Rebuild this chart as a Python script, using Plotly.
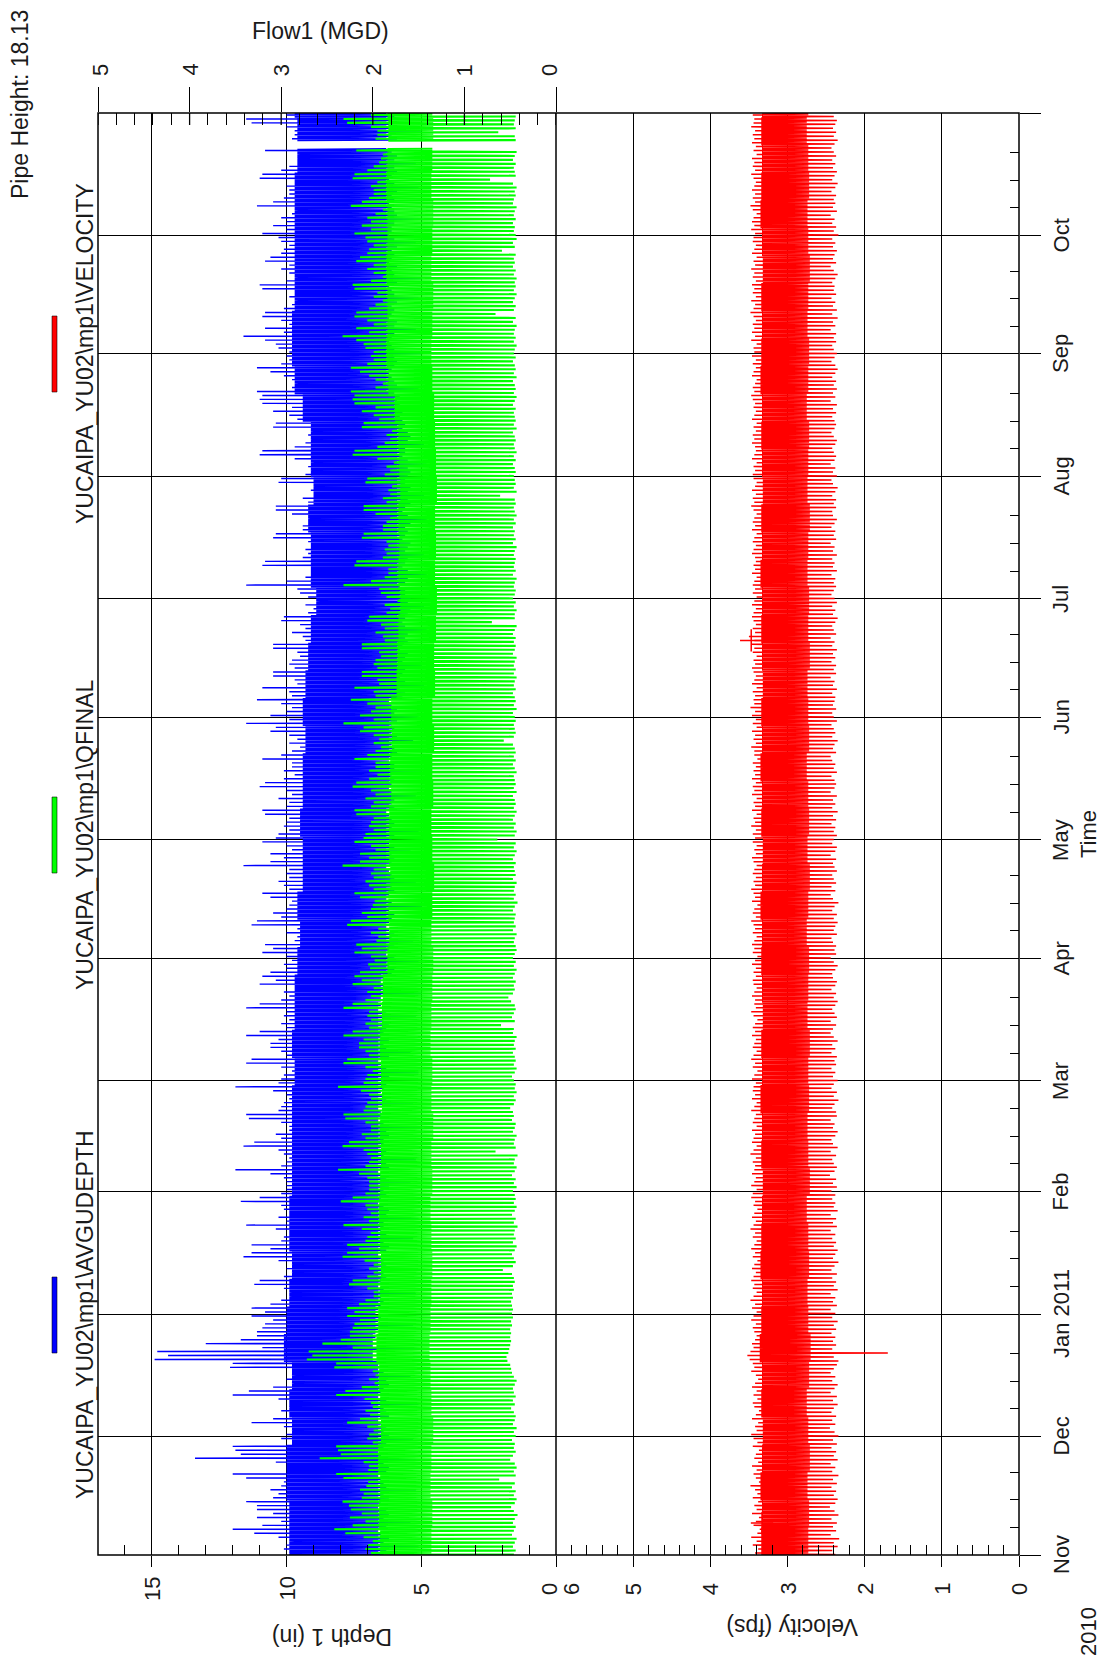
import plotly.graph_objects as go
from datetime import datetime, timedelta

# ---------------- data ----------------
START = datetime(2010, 11, 1)
END = datetime(2011, 11, 1)

# daily maximum depth (in), one row per week (Mon..Sun), first row starts Mon 2010-11-01
DEPTH_MAX = [
    9.8, 10.1, 10.0, 9.7, 10.3, 11.2, 12.0,
    10.9, 10.2, 11.1, 10.5, 11.1, 11.1, 11.5,
    10.5, 10.3, 10.6, 10.2, 10.1, 11.5, 12.0,
    10.0, 10.0, 10.4, 13.4, 11.7, 11.9, 12.0,
    9.8, 10.2, 10.0, 9.7, 10.1, 11.3, 10.5,
    9.9, 10.2, 9.8, 9.9, 10.3, 12.0, 11.4,
    10.5, 9.6, 10.0, 9.5, 9.8, 12.1, 12.0,
    14.9, 14.4, 14.8, 10.9, 13.0, 11.7, 11.1,
    11.1, 10.9, 10.8, 10.5, 11.3, 10.8, 11.3,
    10.6, 10.2, 9.7, 9.7, 10.1, 11.2, 11.0,
    10.1, 9.7, 10.0, 9.7, 10.3, 11.6, 11.3,
    10.6, 11.3, 10.2, 10.1, 9.9, 10.4, 11.5,
    10.0, 10.3, 9.9, 10.1, 10.2, 11.7, 11.0,
    10.2, 10.0, 10.0, 10.0, 10.1, 10.6, 11.9,
    10.2, 10.0, 9.9, 10.1, 10.3, 11.6, 11.2,
    10.2, 10.4, 9.9, 9.9, 10.2, 11.4, 11.5,
    10.3, 10.2, 10.1, 9.9, 10.0, 10.5, 11.9,
    10.3, 10.2, 10.1, 9.8, 10.2, 11.5, 11.3,
    10.0, 10.2, 10.6, 10.6, 10.3, 11.5, 11.0,
    10.0, 10.2, 9.9, 10.1, 10.0, 11.5, 11.0,
    10.2, 9.9, 10.1, 9.7, 11.0, 10.4, 10.9,
    10.6, 10.0, 10.1, 9.8, 10.0, 10.9, 10.5,
    10.8, 9.7, 9.6, 10.0, 9.6, 11.3, 11.1,
    10.2, 10.5, 10.0, 9.9, 9.8, 10.6, 10.9,
    9.9, 10.1, 10.3, 9.9, 10.0, 9.9, 11.6,
    10.6, 10.1, 10.6, 9.8, 10.0, 10.9, 10.4,
    10.3, 9.9, 10.1, 10.0, 9.9, 10.8, 10.9,
    10.0, 9.9, 10.3, 9.8, 10.0, 11.0, 10.8,
    10.1, 9.7, 10.1, 9.8, 9.8, 10.9, 10.2,
    9.8, 9.5, 9.9, 9.6, 9.9, 10.6, 10.4,
    11.5, 9.9, 10.6, 10.0, 9.8, 10.2, 11.1,
    9.8, 9.9, 10.9, 9.6, 9.7, 10.5, 10.5,
    9.7, 9.9, 9.8, 9.5, 9.6, 10.5, 10.5,
    9.3, 9.4, 9.8, 9.3, 9.5, 10.2, 10.1,
    9.2, 9.0, 9.3, 8.6, 9.2, 9.5, 9.6,
    11.5, 10.0, 9.3, 9.1, 9.1, 10.9, 10.8,
    9.4, 9.2, 9.3, 9.1, 9.2, 10.5, 10.4,
    9.4, 9.4, 9.2, 9.0, 9.8, 10.4, 10.4,
    9.2, 9.4, 9.0, 9.1, 8.9, 10.3, 10.2,
    9.3, 9.0, 9.2, 8.8, 9.7, 11.0, 10.9,
    9.7, 9.3, 9.0, 9.2, 8.9, 10.5, 10.4,
    9.6, 9.9, 10.5, 9.8, 10.9, 11.0, 10.9,
    11.1, 9.8, 9.4, 9.8, 10.1, 10.6, 11.1,
    10.2, 9.9, 10.0, 9.9, 10.3, 10.4, 10.8,
    11.6, 10.1, 10.8, 9.9, 10.2, 10.9, 10.8,
    10.1, 9.8, 9.4, 9.9, 9.7, 10.9, 11.0,
    10.0, 9.4, 9.9, 10.2, 9.9, 10.8, 10.6,
    10.2, 10.1, 9.9, 10.2, 10.3, 10.9, 10.0,
    10.5, 10.0, 10.2, 9.8, 9.4, 11.1, 10.5,
    10.1, 9.9, 9.9, 10.0, 9.7, 11.0, 10.9,
    10.2, 9.9, 9.6, 9.5, 9.4, 10.8, None,
    None, 9.8, 9.7, 9.7, 10.0, 11.3, 11.5,
    10.0,
]

# daily minimum depth (in)
DEPTH_MIN = [
    6.4, 6.3, 5.1, 6.4, 6.2, 6.5, 6.6,
    6.3, 5.4, 6.4, 6.2, 6.3, 6.6, 6.5,
    6.2, 6.4, 5.2, 6.3, 6.4, 6.5, 6.7,
    6.3, 6.2, 6.4, 5.0, 6.5, 6.6, 6.4,
    6.3, 5.3, 6.2, 6.4, 6.3, 6.5, 6.6,
    6.2, 6.3, 6.4, 5.1, 6.3, 6.6, 6.5,
    6.4, 6.2, 6.3, 5.4, 6.4, 6.7, 6.9,
    7.2, 7.4, 7.3, 5.0, 6.9, 6.8, 6.7,
    6.7, 6.6, 5.3, 6.6, 6.5, 6.7, 6.6,
    6.5, 6.4, 6.5, 5.2, 6.4, 6.6, 6.5,
    6.3, 6.4, 5.0, 6.3, 6.4, 6.5, 6.6,
    6.3, 6.2, 6.4, 5.3, 6.3, 6.5, 6.4,
    6.4, 5.1, 6.3, 6.2, 6.4, 6.6, 6.5,
    6.3, 6.4, 6.2, 5.4, 6.3, 6.5, 6.6,
    6.2, 6.3, 5.2, 6.4, 6.3, 6.5, 6.4,
    6.4, 6.2, 6.3, 5.0, 6.4, 6.6, 6.5,
    6.5, 6.6, 5.3, 6.3, 6.4, 6.5, 6.4,
    6.3, 6.4, 6.2, 5.1, 6.3, 6.5, 6.6,
    6.2, 5.4, 6.3, 6.4, 6.2, 6.5, 6.4,
    6.3, 6.2, 6.4, 5.2, 6.3, 6.6, 6.5,
    6.5, 6.6, 5.0, 6.3, 6.4, 6.5, 6.4,
    6.1, 6.0, 6.2, 5.1, 6.0, 6.3, 6.2,
    6.0, 5.3, 6.1, 6.0, 6.2, 6.3, 6.2,
    6.1, 6.0, 6.2, 5.0, 6.1, 6.3, 6.2,
    6.0, 6.1, 5.2, 6.0, 6.1, 6.2, 6.3,
    6.1, 6.0, 6.1, 5.4, 6.0, 6.2, 6.1,
    6.0, 5.1, 6.1, 6.0, 6.1, 6.2, 6.3,
    6.0, 6.1, 6.0, 5.2, 6.1, 6.2, 6.1,
    6.0, 6.1, 5.0, 6.0, 6.0, 6.2, 6.1,
    5.9, 6.0, 6.1, 5.3, 5.9, 6.1, 6.0,
    6.1, 5.9, 5.1, 6.0, 5.9, 6.1, 6.2,
    5.7, 5.6, 5.8, 4.9, 5.6, 5.8, 5.7,
    5.6, 5.0, 5.7, 5.6, 5.5, 5.8, 5.7,
    5.5, 5.6, 5.5, 4.8, 5.6, 5.7, 5.6,
    5.5, 5.4, 4.9, 5.5, 5.4, 5.6, 5.6,
    5.8, 5.6, 5.5, 4.8, 5.5, 5.7, 5.6,
    5.5, 4.9, 5.6, 5.5, 5.4, 5.7, 5.6,
    5.5, 5.6, 5.4, 4.8, 5.5, 5.7, 5.6,
    5.4, 5.5, 4.9, 5.5, 5.4, 5.6, 5.6,
    5.5, 5.4, 5.5, 4.8, 5.5, 5.7, 5.6,
    5.6, 4.9, 5.5, 5.4, 5.5, 5.7, 5.6,
    5.7, 5.8, 5.7, 5.0, 5.8, 5.9, 5.8,
    6.0, 5.1, 5.9, 6.0, 6.1, 6.2, 6.1,
    6.0, 5.9, 6.0, 5.0, 6.0, 6.1, 6.2,
    6.1, 6.0, 5.2, 6.0, 5.9, 6.2, 6.1,
    6.0, 6.1, 5.9, 5.1, 6.0, 6.1, 6.2,
    5.9, 5.0, 6.0, 6.1, 5.9, 6.2, 6.1,
    6.0, 6.1, 5.9, 5.2, 6.0, 6.2, 6.1,
    6.1, 6.0, 5.0, 5.9, 6.0, 6.1, 6.2,
    6.0, 6.1, 5.9, 5.1, 6.0, 6.2, 6.1,
    5.9, 6.0, 5.2, 6.0, 5.9, 6.1, None,
    None, 5.9, 6.1, 5.0, 6.0, 6.2, 6.1,
    6.0,
]

# weekly edges of the dense depth band (in)
DEPTH_HI = [9.9, 9.9, 10.0, 10.0, 9.8, 9.9, 9.8, 10.1, 10.0, 9.9, 9.8, 9.9, 9.9, 9.8,
            9.8, 9.8, 9.8, 9.7, 9.8, 9.7, 9.7, 9.6, 9.5, 9.6, 9.4, 9.4, 9.5, 9.4,
            9.4, 9.3, 9.4, 9.3, 9.2, 9.1, 8.9, 9.1, 9.1, 9.2, 9.0, 9.1, 9.1, 9.4,
            9.7, 9.8, 9.8, 9.7, 9.7, 9.7, 9.7, 9.7, 9.6, 9.6, 9.7]
DEPTH_LO = [6.6, 6.6, 6.6, 6.6, 6.6, 6.6, 6.6, 6.8, 6.7, 6.6, 6.6, 6.6, 6.6, 6.6,
            6.6, 6.6, 6.6, 6.6, 6.6, 6.6, 6.5, 6.3, 6.3, 6.3, 6.3, 6.3, 6.3, 6.2,
            6.2, 6.2, 6.2, 5.9, 5.9, 5.9, 5.8, 5.9, 5.9, 5.9, 5.9, 5.9, 5.9, 6.0,
            6.3, 6.3, 6.3, 6.3, 6.3, 6.3, 6.3, 6.3, 6.3, 6.3, 6.3]

# daily maximum flow (MGD)
FLOW_MAX = [
    2.02, 2.08, 2.05, 2.00, 2.10, 2.30, 2.42,
    2.22, 2.08, 2.25, 2.12, 2.24, 2.26, 2.33,
    2.12, 2.10, 2.14, 2.07, 2.05, 2.32, 2.40,
    2.05, 2.04, 2.10, 2.58, 2.35, 2.38, 2.40,
    2.00, 2.06, 2.04, 1.99, 2.06, 2.28, 2.14,
    2.03, 2.08, 2.00, 2.02, 2.09, 2.40, 2.30,
    2.12, 1.98, 2.04, 1.97, 2.00, 2.42, 2.40,
    2.72, 2.66, 2.70, 2.22, 2.55, 2.35, 2.25,
    2.25, 2.22, 2.20, 2.14, 2.28, 2.20, 2.28,
    2.15, 2.08, 1.99, 1.99, 2.06, 2.26, 2.22,
    2.06, 1.99, 2.04, 1.99, 2.09, 2.33, 2.28,
    2.15, 2.28, 2.08, 2.06, 2.02, 2.12, 2.32,
    2.04, 2.10, 2.02, 2.06, 2.08, 2.35, 2.22,
    2.08, 2.04, 2.04, 2.04, 2.06, 2.15, 2.38,
    2.08, 2.04, 2.02, 2.06, 2.10, 2.33, 2.26,
    2.08, 2.12, 2.02, 2.02, 2.08, 2.30, 2.32,
    2.10, 2.08, 2.06, 2.02, 2.04, 2.13, 2.38,
    2.10, 2.08, 2.06, 2.00, 2.08, 2.32, 2.28,
    2.04, 2.08, 2.15, 2.15, 2.10, 2.32, 2.22,
    2.04, 2.08, 2.02, 2.06, 2.04, 2.32, 2.22,
    2.08, 2.02, 2.06, 1.99, 2.22, 2.12, 2.20,
    2.14, 2.03, 2.05, 1.98, 2.02, 2.20, 2.12,
    2.18, 1.96, 1.94, 2.02, 1.94, 2.28, 2.24,
    2.06, 2.12, 2.02, 2.00, 1.98, 2.14, 2.20,
    1.99, 2.04, 2.08, 1.99, 2.02, 1.99, 2.33,
    2.14, 2.04, 2.14, 1.97, 2.02, 2.20, 2.10,
    2.08, 1.99, 2.04, 2.02, 1.99, 2.18, 2.20,
    2.02, 1.99, 2.08, 1.97, 2.02, 2.22, 2.18,
    2.04, 1.95, 2.04, 1.97, 1.97, 2.20, 2.06,
    1.97, 1.91, 1.99, 1.93, 1.99, 2.14, 2.10,
    2.32, 1.99, 2.14, 2.02, 1.97, 2.06, 2.24,
    1.97, 1.99, 2.20, 1.93, 1.95, 2.12, 2.12,
    1.95, 1.99, 1.97, 1.91, 1.93, 2.12, 2.12,
    1.87, 1.89, 1.97, 1.87, 1.91, 2.06, 2.04,
    1.85, 1.81, 1.87, 1.73, 1.85, 1.91, 1.93,
    2.32, 2.02, 1.87, 1.83, 1.83, 2.20, 2.18,
    1.89, 1.85, 1.87, 1.83, 1.85, 2.12, 2.10,
    1.89, 1.89, 1.85, 1.81, 1.97, 2.10, 2.10,
    1.85, 1.89, 1.81, 1.83, 1.79, 2.08, 2.06,
    1.87, 1.81, 1.85, 1.77, 1.95, 2.22, 2.20,
    1.95, 1.87, 1.81, 1.85, 1.79, 2.12, 2.10,
    1.93, 1.99, 2.12, 1.97, 2.20, 2.22, 2.20,
    2.24, 1.97, 1.89, 1.97, 2.04, 2.14, 2.24,
    2.06, 1.99, 2.02, 1.99, 2.08, 2.10, 2.18,
    2.33, 2.04, 2.18, 1.99, 2.06, 2.20, 2.18,
    2.04, 1.97, 1.89, 1.99, 1.95, 2.20, 2.22,
    2.02, 1.89, 1.99, 2.06, 1.99, 2.18, 2.14,
    2.06, 2.04, 1.99, 2.06, 2.08, 2.20, 2.02,
    2.12, 2.02, 2.06, 1.97, 1.89, 2.24, 2.12,
    2.04, 1.99, 1.99, 2.02, 1.95, 2.22, 2.20,
    2.06, 1.99, 1.93, 1.91, 1.89, 2.18, None,
    None, 1.97, 1.95, 1.95, 2.02, 2.28, 2.32,
    2.02,
]

# daily minimum flow (MGD)
FLOW_MIN = [
    0.46, 0.44, 0.47, 0.45, 0.43, 0.48, 0.46,
    0.44, 0.47, 0.45, 0.42, 0.46, 0.49, 0.45,
    0.43, 0.46, 0.44, 0.48, 0.45, 0.62, 0.44,
    0.46, 0.43, 0.45, 0.50, 0.47, 0.44, 0.46,
    0.45, 0.48, 0.44, 0.46, 0.43, 0.47, 0.45,
    0.44, 0.46, 0.49, 0.45, 0.47, 0.44, 0.46,
    0.47, 0.45, 0.43, 0.46, 0.48, 0.49, 0.50,
    0.53, 0.54, 0.52, 0.51, 0.50, 0.49, 0.50,
    0.49, 0.50, 0.48, 0.49, 0.47, 0.48, 0.47,
    0.48, 0.49, 0.47, 0.48, 0.46, 0.47, 0.45,
    0.46, 0.48, 0.58, 0.47, 0.44, 0.46, 0.48,
    0.45, 0.43, 0.47, 0.44, 0.46, 0.45, 0.42,
    0.46, 0.44, 0.48, 0.45, 0.43, 0.46, 0.44,
    0.45, 0.47, 0.43, 0.46, 0.44, 0.48, 0.45,
    0.43, 0.46, 0.45, 0.42, 0.66, 0.44, 0.46,
    0.45, 0.43, 0.47, 0.45, 0.44, 0.48, 0.46,
    0.47, 0.50, 0.46, 0.44, 0.46, 0.43, 0.45,
    0.44, 0.46, 0.48, 0.45, 0.43, 0.46, 0.44,
    0.45, 0.47, 0.44, 0.46, 0.45, 0.43, 0.47,
    0.46, 0.60, 0.45, 0.48, 0.46, 0.44, 0.45,
    0.49, 0.52, 0.47, 0.45, 0.46, 0.44, 0.47,
    0.45, 0.43, 0.46, 0.44, 0.47, 0.45, 0.43,
    0.44, 0.46, 0.45, 0.43, 0.47, 0.44, 0.46,
    0.45, 0.44, 0.47, 0.45, 0.42, 0.46, 0.44,
    0.46, 0.45, 0.43, 0.47, 0.44, 0.45, 0.46,
    0.44, 0.47, 0.45, 0.43, 0.46, 0.44, 0.64,
    0.45, 0.43, 0.46, 0.44, 0.47, 0.45, 0.43,
    0.46, 0.44, 0.45, 0.47, 0.43, 0.46, 0.44,
    0.45, 0.46, 0.43, 0.45, 0.47, 0.44, 0.46,
    0.44, 0.45, 0.47, 0.57, 0.46, 0.44, 0.45,
    0.46, 0.44, 0.45, 0.47, 0.43, 0.46, 0.44,
    0.45, 0.47, 0.44, 0.46, 0.45, 0.43, 0.46,
    0.44, 0.46, 0.45, 0.43, 0.47, 0.45, 0.44,
    0.46, 0.44, 0.47, 0.45, 0.43, 0.70, 0.45,
    0.45, 0.43, 0.46, 0.44, 0.47, 0.45, 0.44,
    0.46, 0.45, 0.43, 0.47, 0.44, 0.46, 0.45,
    0.44, 0.46, 0.45, 0.43, 0.47, 0.44, 0.46,
    0.45, 0.47, 0.44, 0.46, 0.43, 0.45, 0.46,
    0.44, 0.45, 0.61, 0.43, 0.46, 0.44, 0.45,
    0.46, 0.44, 0.45, 0.47, 0.44, 0.46, 0.43,
    0.45, 0.46, 0.44, 0.45, 0.47, 0.43, 0.46,
    0.44, 0.45, 0.46, 0.44, 0.47, 0.45, 0.43,
    0.46, 0.44, 0.45, 0.47, 0.43, 0.46, 0.44,
    0.45, 0.47, 0.44, 0.46, 0.45, 0.43, 0.46,
    0.44, 0.46, 0.45, 0.43, 0.47, 0.44, 0.66,
    0.46, 0.44, 0.47, 0.45, 0.43, 0.46, 0.44,
    0.45, 0.43, 0.46, 0.44, 0.47, 0.45, 0.46,
    0.44, 0.59, 0.45, 0.47, 0.43, 0.44, 0.46,
    0.45, 0.47, 0.44, 0.46, 0.45, 0.43, 0.47,
    0.46, 0.44, 0.45, 0.43, 0.47, 0.72, 0.44,
    0.45, 0.46, 0.44, 0.47, 0.45, 0.43, None,
    None, 0.44, 0.45, 0.63, 0.44, 0.46, 0.45,
    0.44,
]

FLOW_HI = [1.92, 1.93, 1.92, 1.94, 1.91, 1.92, 1.93, 1.96, 1.94, 1.92, 1.91, 1.92, 1.93, 1.92,
           1.91, 1.92, 1.90, 1.91, 1.92, 1.90, 1.89, 1.84, 1.82, 1.83, 1.81, 1.82, 1.82, 1.80,
           1.81, 1.79, 1.80, 1.74, 1.73, 1.72, 1.70, 1.72, 1.71, 1.72, 1.70, 1.71, 1.72, 1.76,
           1.83, 1.85, 1.84, 1.84, 1.85, 1.84, 1.84, 1.85, 1.84, 1.83, 1.84]
FLOW_LO = [1.36, 1.35, 1.37, 1.36, 1.34, 1.36, 1.37, 1.38, 1.37, 1.36, 1.35, 1.36, 1.37, 1.35,
           1.36, 1.34, 1.36, 1.35, 1.37, 1.36, 1.35, 1.34, 1.36, 1.35, 1.33, 1.35, 1.36, 1.34,
           1.35, 1.33, 1.35, 1.32, 1.33, 1.31, 1.30, 1.32, 1.31, 1.32, 1.30, 1.31, 1.32, 1.33,
           1.35, 1.36, 1.35, 1.34, 1.36, 1.35, 1.34, 1.36, 1.35, 1.34, 1.35]

# daily maximum velocity (fps)
VEL_MAX = [
    3.42, 3.38, 3.45, 3.40, 3.47, 3.39, 3.36,
    3.44, 3.41, 3.37, 3.46, 3.40, 3.43, 3.38,
    3.45, 3.39, 3.42, 3.48, 3.37, 3.41, 3.44,
    3.40, 3.46, 3.38, 3.43, 3.41, 3.37, 3.45,
    3.39, 3.44, 3.47, 3.40, 3.42, 3.38, 3.46,
    3.41, 3.37, 3.43, 3.45, 3.39, 3.44, 3.40,
    3.46, 3.42, 3.38, 3.41, 3.47, 3.43, 3.45,
    3.49, 3.52, 3.48, 3.44, 3.46, 3.42, 3.40,
    3.43, 3.45, 3.41, 3.47, 3.44, 3.40, 3.46,
    3.42, 3.48, 3.44, 3.40, 3.45, 3.43, 3.47,
    3.44, 3.41, 3.46, 3.43, 3.39, 3.45, 3.42,
    3.47, 3.43, 3.40, 3.45, 3.42, 3.48, 3.44,
    3.41, 3.46, 3.43, 3.39, 3.44, 3.42, 3.47,
    3.45, 3.40, 3.47, 3.43, 3.41, 3.46, 3.43,
    3.42, 3.45, 3.41, 3.48, 3.44, 3.40, 3.46,
    3.44, 3.42, 3.46, 3.40, 3.45, 3.43, 3.41,
    3.47, 3.43, 3.40, 3.46, 3.42, 3.45, 3.44,
    3.41, 3.46, 3.43, 3.39, 3.45, 3.42, 3.47,
    3.44, 3.40, 3.45, 3.43, 3.41, 3.46, 3.42,
    3.45, 3.42, 3.39, 3.44, 3.47, 3.41, 3.43,
    3.42, 3.46, 3.43, 3.40, 3.44, 3.45, 3.41,
    3.44, 3.41, 3.46, 3.42, 3.39, 3.45, 3.43,
    3.46, 3.43, 3.40, 3.45, 3.42, 3.44, 3.47,
    3.41, 3.45, 3.43, 3.39, 3.46, 3.42, 3.44,
    3.47, 3.42, 3.44, 3.41, 3.45, 3.43, 3.40,
    3.44, 3.46, 3.41, 3.43, 3.40, 3.45, 3.42,
    3.45, 3.41, 3.47, 3.42, 3.44, 3.40, 3.46,
    3.42, 3.44, 3.40, 3.46, 3.43, 3.45, 3.41,
    3.46, 3.42, 3.44, 3.41, 3.45, 3.39, 3.43,
    3.43, 3.47, 3.41, 3.44, 3.42, 3.46, 3.40,
    3.45, 3.41, 3.46, 3.42, 3.48, 3.43, 3.44,
    3.42, 3.45, 3.40, 3.46, 3.43, 3.41, 3.44,
    3.46, 3.42, 3.44, 3.40, 3.45, 3.43, 3.47,
    3.43, 3.50, 3.42, 3.45, 3.41, 3.44, 3.46,
    3.44, 3.41, 3.46, 3.43, 3.40, 3.45, 3.42,
    3.45, 3.43, 3.40, 3.46, 3.42, 3.44, 3.41,
    3.42, 3.46, 3.44, 3.41, 3.45, 3.43, 3.40,
    3.46, 3.42, 3.45, 3.43, 3.40, 3.44, 3.47,
    3.43, 3.45, 3.41, 3.46, 3.42, 3.40, 3.44,
    3.45, 3.42, 3.44, 3.40, 3.46, 3.43, 3.41,
    3.42, 3.46, 3.43, 3.45, 3.41, 3.44, 3.40,
    3.46, 3.43, 3.41, 3.44, 3.42, 3.45, 3.47,
    3.43, 3.45, 3.42, 3.40, 3.46, 3.44, 3.41,
    3.45, 3.41, 3.46, 3.43, 3.44, 3.40, 3.47,
    3.42, 3.46, 3.43, 3.45, 3.41, 3.44, 3.48,
    3.44, 3.42, 3.47, 3.41, 3.45, 3.43, 3.46,
    3.41, 3.45, 3.43, 3.47, 3.42, 3.44, 3.40,
    3.46, 3.43, 3.41, 3.45, 3.44, 3.42, 3.47,
    3.43, 3.46, 3.44, 3.40, 3.45, 3.48, 3.42,
    3.45, 3.42, 3.46, 3.43, 3.41, 3.44, 3.47,
    3.42, 3.45, 3.43, 3.46, 3.40, 3.44, 3.41,
    3.46, 3.43, 3.45, 3.42, 3.47, 3.44, 3.43,
    3.45,
]

# daily minimum velocity (fps)
VEL_MIN = [
    2.38, 2.42, 2.35, 2.40, 2.33, 2.44, 2.37,
    2.41, 2.36, 2.43, 2.34, 2.39, 2.45, 2.38,
    2.35, 2.40, 2.37, 2.43, 2.36, 2.41, 2.34,
    2.42, 2.38, 2.44, 2.35, 2.40, 2.37, 2.43,
    2.36, 2.41, 2.34, 2.39, 2.45, 2.38, 2.42,
    2.37, 2.43, 2.40, 2.35, 2.41, 2.36, 2.44,
    2.39, 2.35, 2.42, 2.38, 2.44, 2.40, 2.36,
    2.34, 2.40, 1.70, 2.42, 2.37, 2.41, 2.38,
    2.43, 2.37, 2.40, 2.35, 2.42, 2.38, 2.44,
    2.36, 2.41, 2.38, 2.44, 2.35, 2.40, 2.37,
    2.42, 2.36, 2.43, 2.39, 2.34, 2.41, 2.38,
    2.35, 2.40, 2.37, 2.42, 2.38, 2.44, 2.36,
    2.41, 2.37, 2.44, 2.35, 2.40, 2.38, 2.42,
    2.38, 2.43, 2.36, 2.41, 2.37, 2.45, 2.39,
    2.36, 2.40, 2.42, 2.37, 2.44, 2.35, 2.41,
    2.43, 2.38, 2.35, 2.41, 2.39, 2.44, 2.36,
    2.37, 2.42, 2.39, 2.34, 2.40, 2.36, 2.43,
    2.40, 2.35, 2.41, 2.38, 2.43, 2.37, 2.39,
    2.36, 2.43, 2.38, 2.42, 2.35, 2.40, 2.44,
    2.41, 2.37, 2.44, 2.36, 2.39, 2.42, 2.38,
    2.35, 2.40, 2.37, 2.43, 2.38, 2.36, 2.41,
    2.42, 2.38, 2.35, 2.40, 2.44, 2.37, 2.39,
    2.37, 2.41, 2.43, 2.36, 2.40, 2.38, 2.35,
    2.40, 2.36, 2.42, 2.39, 2.34, 2.41, 2.44,
    2.38, 2.43, 2.37, 2.40, 2.42, 2.36, 2.39,
    2.41, 2.37, 2.44, 2.38, 2.36, 2.42, 2.40,
    2.36, 2.40, 2.38, 2.43, 2.37, 2.41, 2.35,
    2.42, 2.38, 2.41, 2.36, 2.44, 2.39, 2.37,
    2.39, 2.43, 2.36, 2.40, 2.38, 2.42, 2.44,
    2.37, 2.41, 2.39, 2.35, 2.42, 2.38, 2.40,
    2.43, 2.36, 2.40, 2.42, 2.37, 2.41, 2.39,
    2.38, 2.42, 2.36, 2.41, 2.39, 2.44, 2.37,
    2.40, 2.37, 2.43, 2.38, 2.41, 2.36, 2.42,
    2.39, 2.44, 2.37, 2.40, 2.42, 2.38, 2.35,
    2.41, 2.38, 2.42, 2.36, 2.39, 2.43, 2.40,
    2.37, 2.40, 2.38, 2.43, 2.36, 2.41, 2.39,
    2.42, 2.36, 2.41, 2.39, 2.44, 2.37, 2.40,
    2.38, 2.43, 2.39, 2.36, 2.41, 2.42, 2.37,
    2.40, 2.37, 2.42, 2.38, 2.35, 2.41, 2.43,
    2.36, 2.41, 2.38, 2.44, 2.39, 2.37, 2.40,
    2.42, 2.38, 2.36, 2.40, 2.43, 2.39, 2.37,
    2.39, 2.42, 2.37, 2.41, 2.36, 2.44, 2.38,
    2.41, 2.36, 2.40, 2.37, 2.42, 2.38, 2.35,
    2.38, 2.43, 2.39, 2.36, 2.40, 2.42, 2.37,
    2.40, 2.37, 2.44, 2.38, 2.41, 2.35, 2.42,
    2.36, 2.41, 2.38, 2.43, 2.37, 2.40, 2.39,
    2.42, 2.38, 2.35, 2.40, 2.44, 2.37, 2.41,
    2.39, 2.36, 2.41, 2.38, 2.42, 2.34, 2.40,
    2.37, 2.42, 2.39, 2.44, 2.36, 2.41, 2.38,
    2.40, 2.37, 2.43, 2.38, 2.35, 2.42, 2.39,
    2.36, 2.41, 2.38, 2.42, 2.37, 2.40, 2.43,
    2.39, 2.35, 2.40, 2.37, 2.41, 2.38, 2.36,
    2.40,
]

VEL_HI = [3.34, 3.33, 3.35, 3.33, 3.32, 3.34, 3.33, 3.36, 3.34, 3.33, 3.35, 3.34, 3.33, 3.32,
          3.34, 3.33, 3.35, 3.33, 3.34, 3.32, 3.33, 3.34, 3.33, 3.35, 3.33, 3.32, 3.34, 3.33,
          3.35, 3.33, 3.34, 3.32, 3.33, 3.34, 3.33, 3.35, 3.33, 3.34, 3.32, 3.33, 3.34, 3.33,
          3.35, 3.34, 3.33, 3.34, 3.32, 3.33, 3.35, 3.34, 3.33, 3.34, 3.33]
VEL_LO = [2.73, 2.72, 2.74, 2.71, 2.73, 2.75, 2.72, 2.70, 2.73, 2.74, 2.72, 2.73, 2.75, 2.71,
          2.73, 2.74, 2.72, 2.73, 2.71, 2.74, 2.73, 2.72, 2.75, 2.73, 2.71, 2.74, 2.72, 2.73,
          2.75, 2.72, 2.73, 2.74, 2.71, 2.73, 2.72, 2.74, 2.73, 2.71, 2.74, 2.73, 2.72, 2.75,
          2.73, 2.72, 2.74, 2.73, 2.71, 2.73, 2.74, 2.72, 2.73, 2.75, 2.73]

# isolated flagged velocity samples drawn as "+"
VEL_MARK_TIMES = ["2010-11-09 02:00", "2011-06-20 12:00"]
VEL_MARK_VALUES = [3.33, 3.47]

# axis ticks / labels
DEPTH_TICKS = [0, 5, 10, 15]
VEL_TICKS = [0, 1, 2, 3, 4, 5, 6]
FLOW_TICKS = [0, 1, 2, 3, 4, 5]
MONTH_TICKS = ["2010-11-01", "2010-12-01", "2011-01-01", "2011-02-01", "2011-03-01",
               "2011-04-01", "2011-05-01", "2011-06-01", "2011-07-01", "2011-08-01",
               "2011-09-01", "2011-10-01", "2011-11-01"]
MONTH_LABELS = ["Nov", "Dec", "Jan 2011", "Feb", "Mar", "Apr", "May", "Jun", "Jul",
                "Aug", "Sep", "Oct", ""]
LEGEND_NAMES = [r"YUCAIPA_YU02\mp1\AVGUDEPTH", r"YUCAIPA_YU02\mp1\QFINAL",
                r"YUCAIPA_YU02\mp1\VELOCITY"]
LEGEND_COLORS = ["#0000FF", "#00FF00", "#FF0000"]

# ---------------- building the series ----------------
DAY_SHAPE = [(0.0, 'hi'), (1.5, 'lo'), (3.0, 'mn'), (4.5, 'lo'), (6.0, 'hi'), (7.5, 'lo'),
             (9.0, 'hi'), (10.5, 'lo'), (12.0, 'mx'), (13.5, 'lo'), (15.0, 'hi'),
             (16.5, 'lo'), (18.0, 'hi'), (19.5, 'lo'), (21.0, 'hi'), (22.5, 'lo')]


def build_series(daily_max, daily_min, week_hi, week_lo):
    ts, vs = [], []
    for d in range(min(len(daily_max), len(daily_min))):
        mx, mn = daily_max[d], daily_min[d]
        day0 = START + timedelta(days=d)
        if mx is None or mn is None:
            ts.append(day0.strftime('%Y-%m-%d %H:%M'))
            vs.append(None)
            continue
        w = min(d // 7, len(week_hi) - 1)
        lvl = {'hi': week_hi[w], 'lo': week_lo[w], 'mx': mx, 'mn': mn}
        for h, key in DAY_SHAPE:
            ts.append((day0 + timedelta(hours=h)).strftime('%Y-%m-%d %H:%M'))
            vs.append(lvl[key])
    return ts, vs


dep_t, dep_v = build_series(DEPTH_MAX, DEPTH_MIN, DEPTH_HI, DEPTH_LO)
flo_t, flo_v = build_series(FLOW_MAX, FLOW_MIN, FLOW_HI, FLOW_LO)
vel_t, vel_v = build_series(VEL_MAX, VEL_MIN, VEL_HI, VEL_LO)

# ---------------- geometry helpers (pixel layout of the page) ----------------
W, H = 1104, 1662
L, R, T, B = 98, 1019, 113, 1555
SPLIT = (556 - L) / (R - L)


def px(x):
    return (x - L) / (R - L)


def py(y):
    return (B - y) / (B - T)


FONT = "Liberation Sans, Arial, sans-serif"
TXT = "#1a1a1a"

fig = go.Figure()
fig.add_trace(go.Scatter(x=dep_v, y=dep_t, xaxis='x', yaxis='y', mode='lines',
                         line=dict(color='#0000FF', width=1.4), hoverinfo='skip'))
fig.add_trace(go.Scatter(x=flo_v, y=flo_t, xaxis='x3', yaxis='y', mode='lines',
                         line=dict(color='#00FF00', width=2.1), hoverinfo='skip'))
fig.add_trace(go.Scatter(x=vel_v, y=vel_t, xaxis='x2', yaxis='y', mode='lines',
                         line=dict(color='#FF0000', width=1.5), hoverinfo='skip'))
fig.add_trace(go.Scatter(x=VEL_MARK_VALUES, y=VEL_MARK_TIMES, xaxis='x2', yaxis='y',
                         mode='markers', hoverinfo='skip',
                         marker=dict(symbol='cross-thin', size=16,
                                     line=dict(color='#FF0000', width=1.5))))

depth_minor = [v for v in range(1, 17) if v % 5 != 0]
vel_minor = [round(i * 0.2, 1) for i in range(31) if i % 5 != 0]
flow_minor = [round(i * 0.2, 1) for i in range(26) if i % 5 != 0]
time_minor = []
for m in MONTH_TICKS[:-1]:
    for dd in ("08", "15", "22"):
        time_minor.append(m[:8] + dd)

common = dict(showline=False, zeroline=False, showticklabels=False, tickcolor='black',
              tickwidth=1.3, gridcolor='black', gridwidth=1.2, fixedrange=True,
              tickmode='array')

fig.update_layout(
    width=W, height=H,
    margin=dict(l=L, r=W - R, t=T, b=H - B, pad=0),
    paper_bgcolor='white', plot_bgcolor='white', showlegend=False,
    xaxis=dict(common, domain=[0, SPLIT], range=[17, 0], anchor='y',
               tickvals=DEPTH_TICKS, ticks='outside', ticklen=11, showgrid=True,
               minor=dict(tickmode='array', tickvals=depth_minor, ticks='inside',
                          ticklen=10, tickcolor='black', tickwidth=1.2, showgrid=False)),
    xaxis2=dict(common, domain=[SPLIT, 1], range=[6, 0], anchor='y',
                tickvals=VEL_TICKS, ticks='outside', ticklen=11, showgrid=True,
                minor=dict(tickmode='array', tickvals=vel_minor, ticks='inside',
                           ticklen=10, tickcolor='black', tickwidth=1.2, showgrid=False)),
    xaxis3=dict(common, overlaying='x', side='top', anchor='y', range=[5, 0],
                tickvals=FLOW_TICKS, ticks='outside', ticklen=25, showgrid=False,
                minor=dict(tickmode='array', tickvals=flow_minor, ticks='inside',
                           ticklen=12, tickcolor='black', tickwidth=1.2, showgrid=False)),
    yaxis=dict(common, anchor='x2', side='right', type='date',
               range=[START.strftime('%Y-%m-%d'), END.strftime('%Y-%m-%d')],
               tickvals=MONTH_TICKS, ticks='outside', ticklen=21, showgrid=True,
               minor=dict(tickmode='array', tickvals=time_minor, ticks='inside',
                          ticklen=9, tickcolor='black', tickwidth=1.2, showgrid=False)),
)

shapes = [
    dict(type='rect', xref='paper', yref='paper', x0=0, x1=1, y0=0, y1=1,
         line=dict(color='black', width=1.5), layer='above'),
    dict(type='line', xref='paper', yref='paper', x0=SPLIT, x1=SPLIT, y0=0, y1=1,
         line=dict(color='black', width=1.5), layer='above'),
]
# inner halves of the flow major ticks (they cross the top edge)
for v in FLOW_TICKS:
    shapes.append(dict(type='line', xref='x3', yref='paper', x0=v, x1=v, y0=1,
                       y1=1 - 12 / (B - T), line=dict(color='black', width=1.3),
                       layer='above'))
# legend colour swatches
legend_centers = [1315, 835, 354]
for c, yc in zip(LEGEND_COLORS, legend_centers):
    shapes.append(dict(type='rect', xref='paper', yref='paper', x0=px(52), x1=px(57),
                       y0=py(yc + 38), y1=py(yc - 38), fillcolor=c,
                       line=dict(color='rgba(0,0,0,0.55)', width=1)))
fig.update_layout(shapes=shapes)

ann = []


def add_text(text, x, y, xref='paper', yref='paper', angle=-90, size=22, xshift=0):
    ann.append(dict(text=text, x=x, y=y, xref=xref, yref=yref, textangle=angle,
                    showarrow=False, xanchor='center', yanchor='middle', xshift=xshift,
                    font=dict(family=FONT, size=size, color=TXT)))


for v in DEPTH_TICKS:
    add_text(str(v), v, py(1589), xref='x', xshift=-7 if v == 0 else 0)
for v in VEL_TICKS:
    add_text(str(v), v, py(1589), xref='x2', xshift=15 if v == 6 else 0)
for v in FLOW_TICKS:
    add_text(str(v), v, py(70), xref='x3', xshift=-7 if v == 0 else (2 if v == 5 else 0))
for m, lab in zip(MONTH_TICKS, MONTH_LABELS):
    if lab:
        add_text(lab, px(1061), m, yref='y')

add_text("Flow1 (MGD)", px(320), py(31), angle=0, size=23)
add_text("Depth 1 (in)", px(332), py(1637), angle=180, size=23)
add_text("Velocity (fps)", px(792), py(1627), angle=180, size=23)
add_text("Time", px(1088), py(834), size=22)
add_text("2010", px(1088), py(1632), size=22)
add_text("Pipe Height: 18.13", px(20), py(105), size=23)
for name, yc in zip(LEGEND_NAMES, legend_centers):
    add_text(name, px(85), py(yc), size=23)

fig.update_layout(annotations=ann)
fig.write_html("out.html",
               config={'displayModeBar': False},
               post_script="document.body.style.margin='0px';"
                           "document.body.style.overflow='hidden';")
